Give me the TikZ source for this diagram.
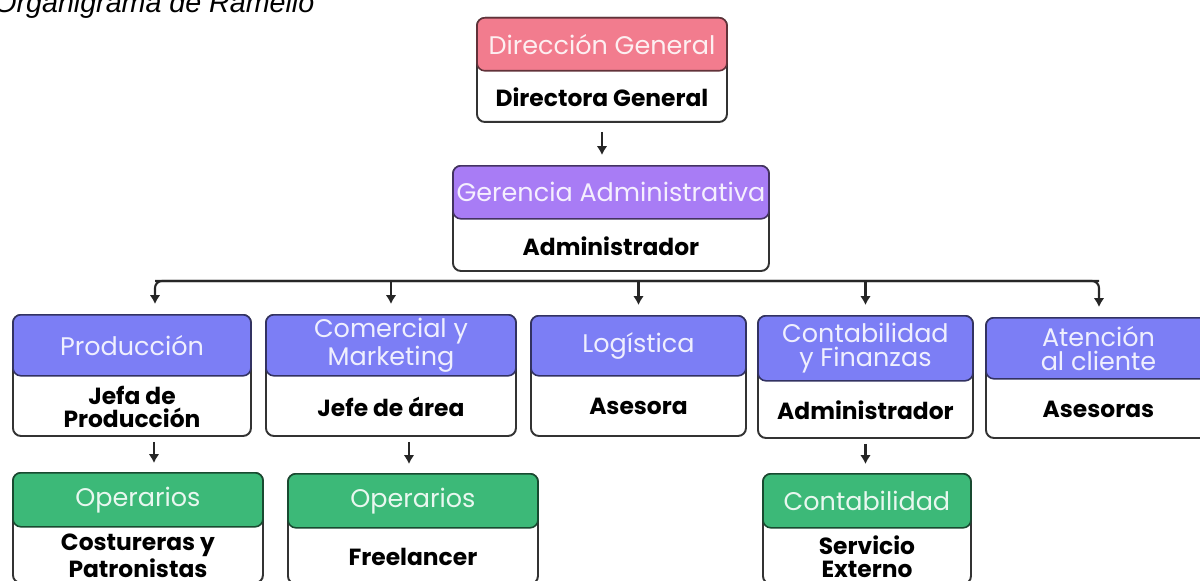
\documentclass[tikz,border=0pt]{standalone}
\usepackage{fontspec}
\usetikzlibrary{calc,arrows.meta}
\newfontfamily\popfont{Poppins}
\newfontfamily\captionfont{Liberation Sans}
\definecolor{dirpink}{RGB}{242,124,142}
\definecolor{gerpurple}{RGB}{168,124,245}
\definecolor{areablue}{RGB}{124,126,245}
\definecolor{opgreen}{RGB}{60,185,120}
\tikzset{
  unitframe/.style={draw=black!80, line width=1.1pt, fill=white,
    rounded corners=4.5pt, anchor=north west, inner sep=0pt},
  unithead/.style={draw=#1!40!black, fill=#1, text=#1!12!white,
    line width=0.9pt, rounded corners=4.5pt, anchor=north, inner sep=0pt,
    align=center, font=\popfont\fontsize{14.5}{13.8}\selectfont},
  unittext/.style={align=center, inner sep=0pt,
    font=\popfont\bfseries\fontsize{13.3}{13.2}\selectfont},
  orgarrow/.style={-{Latex[length=5pt,width=6pt]}, line width=1.2pt, black!85},
}
% name, x, y, width, header height, total height, colour, header, body
\newcommand{\orgunit}[9]{%
  \node[unitframe, minimum width=#4*0.02cm, minimum height=#6*0.02cm] (#1box) at (#2,#3) {};
  \node[unithead=#7, minimum width=#4*0.02cm, minimum height=#5*0.02cm] (#1head) at (#1box.north) {#8};
  \node[unittext] (#1txt) at ($(#1head.south)!0.5!(#1box.south)$) {#9};
}
\begin{document}
\begin{tikzpicture}[x=0.02cm,y=-0.02cm]
    \useasboundingbox (0,0) rectangle (1200,581);
    \clip (0,0) rectangle (1200,581);
    \node[anchor=base west, inner sep=0pt,
      font=\captionfont\itshape\fontsize{16.3}{18}\selectfont] (title) at (-6,13) {Organigrama de Ramello};
    % top management
    \orgunit{dir}{476}{17}{250}{53}{104}{dirpink}{Dirección General}{Directora General}
    \orgunit{ger}{452}{165}{316}{53}{105}{gerpurple}{Gerencia Administrativa}{Administrador}
    % areas
    \orgunit{prod}{12}{314}{238}{61}{121}{areablue}{Producción}{Jefa de\\Producción}
    \orgunit{com}{265}{314}{250}{61}{121}{areablue}{Comercial y\\Marketing}{Jefe de área}
    \orgunit{log}{530}{315}{215}{60}{120}{areablue}{Logística}{Asesora}
    \orgunit{conta}{757}{315}{215}{65}{122}{areablue}{Contabilidad\\y Finanzas}{Administrador}
    \orgunit{aten}{985}{317}{225}{61}{120}{areablue}{Atención\\al cliente}{Asesoras}
    % operative level, cut by the lower edge
    \orgunit{opa}{12}{472}{250}{54}{110}{opgreen}{Operarios}{Costureras y\\Patronistas}
    \orgunit{opb}{287}{473}{250}{54}{110}{opgreen}{Operarios}{Freelancer}
    \orgunit{ext}{762}{473}{208}{54}{110}{opgreen}{Contabilidad}{Servicio\\Externo}
    % connectors
    \draw[orgarrow, shorten <=0.18cm, shorten >=0.2cm] (dirbox.south) -- (dirbox.south |- gerbox.north);
    \coordinate (busl) at (155,281);
    \coordinate (busr) at (1099,281);
    \draw[orgarrow, rounded corners=4pt, shorten >=0.2cm] (busr) -- (busl) -- (busl |- prodbox.north);
    \draw[orgarrow, rounded corners=4pt, shorten >=0.2cm] (busl) -- (busr) -- (busr |- atenbox.north);
    \foreach \u in {combox,logbox,contabox}
      \draw[orgarrow, shorten >=0.2cm] (busl -| \u.north) -- (\u.north);
    \draw[orgarrow, shorten <=0.1cm, shorten >=0.18cm] ([xshift=0.44cm]prodbox.south) -- ([xshift=0.44cm]prodbox.south |- opabox.north);
    \draw[orgarrow, shorten <=0.1cm, shorten >=0.18cm] ([xshift=0.36cm]combox.south) -- ([xshift=0.36cm]combox.south |- opbbox.north);
    \draw[orgarrow, shorten <=0.1cm, shorten >=0.18cm] (contabox.south) -- (contabox.south |- extbox.north);
  \end{tikzpicture}
\end{document}
